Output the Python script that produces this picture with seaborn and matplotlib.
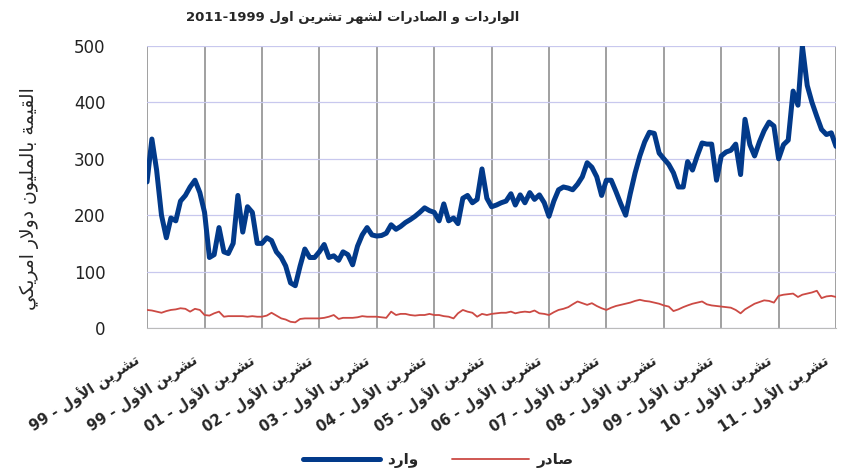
import matplotlib
matplotlib.use("Agg")
import matplotlib.pyplot as plt
import seaborn as sns
import pandas as pd

# monthly values, Oct 1999 .. Oct 2011 (million USD)
imports = [259, 335, 280, 200, 160, 195, 190, 225, 235, 250, 262, 240,
           205, 125, 130, 178, 135, 132, 150, 235, 170, 215, 205, 150,
           150, 160, 155, 135, 125, 110, 80, 75, 110, 140, 125, 125,
           135, 148, 125, 128, 120, 135, 130, 112, 145, 165, 178, 165,
           163, 164, 168, 183, 175, 180, 187, 192, 198, 205, 213, 208,
           205, 190, 220, 190, 195, 185, 230, 235, 222, 228, 282, 230,
           215, 218, 222, 225, 238, 218, 236, 222, 240, 228, 236, 222,
           198, 225, 245, 250, 248, 245, 255, 268, 293, 285, 268, 235,
           262, 262, 242, 220, 200, 238, 275, 305, 330, 347, 345, 310,
           300, 290, 275, 250, 250, 295, 280, 305, 328, 326, 326, 262,
           305, 312, 315, 326, 272, 370, 325, 305, 330, 350, 365, 358,
           300, 325, 333, 420, 395, 500, 430, 400, 375, 352, 343, 346,
           322]
exports = [32, 31, 29, 27, 30, 32, 33, 35, 34, 29, 34, 32,
           23, 22, 26, 29, 20, 21, 21, 21, 21, 20, 21, 20,
           20, 22, 27, 22, 17, 15, 11, 10, 16, 17, 17, 17,
           17, 18, 20, 23, 16, 18, 18, 18, 19, 21, 20, 20,
           20, 19, 18, 29, 23, 25, 25, 23, 22, 23, 23, 25,
           23, 23, 21, 20, 17, 26, 32, 29, 27, 20, 25, 23,
           25, 26, 27, 27, 29, 26, 28, 29, 28, 31, 26, 25,
           23, 28, 32, 34, 37, 42, 47, 44, 41, 44, 39, 35,
           32, 36, 39, 41, 43, 45, 48, 50, 48, 47, 45, 43,
           40, 38, 30, 33, 37, 40, 43, 45, 47, 42, 40, 39,
           38, 37, 36, 32, 26, 33, 38, 43, 46, 49, 48, 45,
           57, 59, 60, 61, 55, 59, 61, 63, 66, 53, 56, 57,
           55]
tick_labels = ["تشرين الأول - 99", "تشرين الأول - 99", "تشرين الأول - 01",
               "تشرين الأول - 02", "تشرين الأول - 03", "تشرين الأول - 04",
               "تشرين الأول - 05", "تشرين الأول - 06", "تشرين الأول - 07",
               "تشرين الأول - 08", "تشرين الأول - 09", "تشرين الأول - 10",
               "تشرين الأول - 11"]
title = "الواردات و الصادرات لشهر تشرين اول 2011-1999"
ylabel = "القيمة بالمليون دولار امريكي"
name_imp = "وارد"
name_exp = "صادر"

# very small arabic shaper (matplotlib does no shaping / bidi)
FORMS = {
    'آ': (0xFE81, 2), 'أ': (0xFE83, 2), 'ؤ': (0xFE85, 2), 'إ': (0xFE87, 2),
    'ئ': (0xFE89, 4), 'ا': (0xFE8D, 2), 'ب': (0xFE8F, 4), 'ة': (0xFE93, 2),
    'ت': (0xFE95, 4), 'ث': (0xFE99, 4), 'ج': (0xFE9D, 4), 'ح': (0xFEA1, 4),
    'خ': (0xFEA5, 4), 'د': (0xFEA9, 2), 'ذ': (0xFEAB, 2), 'ر': (0xFEAD, 2),
    'ز': (0xFEAF, 2), 'س': (0xFEB1, 4), 'ش': (0xFEB5, 4), 'ص': (0xFEB9, 4),
    'ض': (0xFEBD, 4), 'ط': (0xFEC1, 4), 'ظ': (0xFEC5, 4), 'ع': (0xFEC9, 4),
    'غ': (0xFECD, 4), 'ف': (0xFED1, 4), 'ق': (0xFED5, 4), 'ك': (0xFED9, 4),
    'ل': (0xFEDD, 4), 'م': (0xFEE1, 4), 'ن': (0xFEE5, 4), 'ه': (0xFEE9, 4),
    'و': (0xFEED, 2), 'ى': (0xFEEF, 2), 'ي': (0xFEF1, 4),
    'لا': (0xFEFB, 2), 'لأ': (0xFEF7, 2), 'لإ': (0xFEF9, 2), 'لآ': (0xFEF5, 2),
}


def shape_word(w):
    units, i = [], 0
    while i < len(w):
        if w[i] == 'ل' and i + 1 < len(w) and w[i + 1] in 'اأإآ':
            units.append(w[i:i + 2]); i += 2
        else:
            units.append(w[i]); i += 1
    out = []
    for k, u in enumerate(units):
        if u not in FORMS:
            out.append(u); continue
        start, n = FORMS[u]
        prev = units[k - 1] if k > 0 else None
        nxt = units[k + 1] if k + 1 < len(units) else None
        jp = prev in FORMS and FORMS[prev][1] == 4
        jn = n == 4 and nxt in FORMS
        off = 3 if (jp and jn) else 1 if jp else 2 if jn else 0
        out.append(chr(start + off))
    return ''.join(reversed(out))


def ar(text):
    toks = text.split(' ')
    return ' '.join(shape_word(t) if any(c in FORMS for c in t) else t
                    for t in reversed(toks))


months = pd.date_range("1999-10-01", periods=len(imports), freq="MS")
ticks = pd.date_range("1999-10-01", "2011-10-01", freq="12MS")
df = pd.DataFrame({"month": months, "imp": imports, "exp": exports})

sns.set_style("white")
plt.rcParams['font.family'] = ['DejaVu Sans']

fig = plt.figure(figsize=(8.43, 4.72), dpi=100)
ax = fig.add_axes([0.1744, 0.3051, 0.8173, 0.5975])

sns.lineplot(data=df, x="month", y="imp", ax=ax, color="#023a8a", lw=3.6,
             label=ar(name_imp), solid_joinstyle='round')
sns.lineplot(data=df, x="month", y="exp", ax=ax, color="#cc4a44", lw=1.3,
             label=ar(name_exp))

ax.set_xlim(months[0], months[-1])
ax.set_ylim(0, 500)
ax.set_yticks([0, 100, 200, 300, 400, 500])
ax.set_xticks(ticks)
# trailing space keeps the last label inside the figure edge
ax.set_xticklabels([ar(t) + "  " for t in tick_labels], rotation=33,
                   ha='right', va='center', rotation_mode='anchor',
                   fontsize=10.5, fontweight='bold')
ax.tick_params(axis='x', length=0, pad=18)
ax.tick_params(axis='y', length=0, pad=30, labelsize=12, labelcolor="#222222")
ax.set_xlabel("")
ax.set_ylabel("")

ax.grid(axis='y', color="#c8c8ee", lw=0.9)
ax.grid(axis='x', color="#999999", lw=1.3)
ax.set_axisbelow(True)
for s in ["top", "right", "left"]:
    ax.spines[s].set_visible(False)
ax.spines["bottom"].set_color("#bbbbbb")

fig.text(0.418, 0.962, ar(title), ha='center', va='center', fontsize=9.5,
         fontweight='bold')
fig.text(0.035, 0.58, ar(ylabel), rotation=90, ha='center', va='center',
         fontsize=13.5)

ax.legend_.remove()
leg = fig.legend(loc='center', bbox_to_anchor=(0.52, 0.025), ncol=2,
                 frameon=False, prop={'size': 11, 'weight': 'bold'},
                 handlelength=5, handletextpad=0.5, columnspacing=2.2)

fig.savefig("out.png", dpi=100)
